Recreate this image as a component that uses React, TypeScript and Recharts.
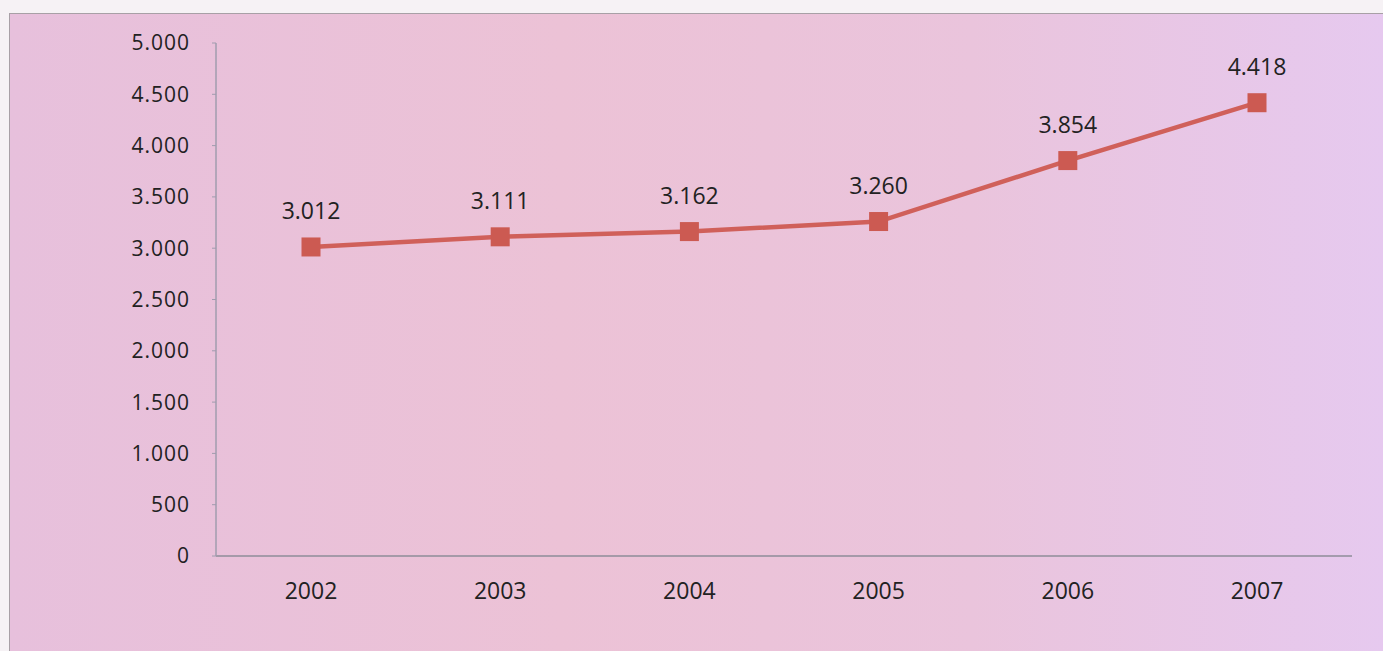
import React from "react";
import { LineChart, Line, XAxis, YAxis, LabelList } from "recharts";

const years = ["2002", "2003", "2004", "2005", "2006", "2007"];
const values = [3012, 3111, 3162, 3260, 3854, 4418];
const yTicks = [0, 500, 1000, 1500, 2000, 2500, 3000, 3500, 4000, 4500, 5000];

const data = years.map((y, i) => ({ year: y, value: values[i] }));

const fmt = (v: number) => {
  const s = String(Math.round(v));
  return s.replace(/\B(?=(\d{3})+(?!\d))/g, ".");
};

const SquareDot = (props: any) => {
  const { cx, cy } = props;
  if (cx == null || cy == null) return null;
  const s = 19;
  return <rect x={cx - s / 2} y={cy - s / 2} width={s} height={s} fill="#cc5a52" />;
};

export default function App() {
  const font = "'Open Sans', sans-serif";
  return (
    <div style={{ position: "fixed", left: 0, top: 0, width: 1383, height: 651, background: "#f6f2f5", overflow: "hidden" }}>
      <div
        style={{
          position: "absolute",
          left: 9,
          top: 13,
          width: 1374,
          height: 660,
          border: "1px solid #a8a0a6",
          background: "linear-gradient(90deg, #e7c0dc 0%, #ecc2d6 40%, #eac4dc 70%, #e6c9ef 100%)",
        }}
      />
      <div style={{ position: "absolute", left: 0, top: 0 }}>
        <LineChart width={1383} height={651} data={data} margin={{ top: 43, right: 31, bottom: 65, left: 0 }}>
          <XAxis
            dataKey="year"
            height={30}
            padding={{ left: 95, right: 95 }}
            axisLine={{ stroke: "#8e8c98", strokeWidth: 1.5 }}
            tickLine={false}
            tickMargin={21}
            tick={{ fill: "#222", fontSize: 23, fontFamily: font }}
          />
          <YAxis
            width={216}
            domain={[0, 5000]}
            ticks={yTicks}
            interval={0}
            tickFormatter={fmt}
            axisLine={{ stroke: "#a09cae", strokeWidth: 1.5 }}
            tickLine={{ stroke: "#a09cae" }}
            tickSize={4}
            tickMargin={22}
            tick={{ fill: "#222", fontSize: 21, fontFamily: font, letterSpacing: 1 }}
          />
          <Line
            type="linear"
            dataKey="value"
            stroke="#d0605a"
            strokeWidth={4.5}
            dot={<SquareDot />}
            activeDot={false}
            isAnimationActive={false}
          >
            <LabelList
              dataKey="value"
              position="top"
              offset={28}
              formatter={(v: any) => fmt(Number(v))}
              style={{ fill: "#222", fontSize: 23, fontFamily: font }}
            />
          </Line>
        </LineChart>
      </div>
    </div>
  );
}
